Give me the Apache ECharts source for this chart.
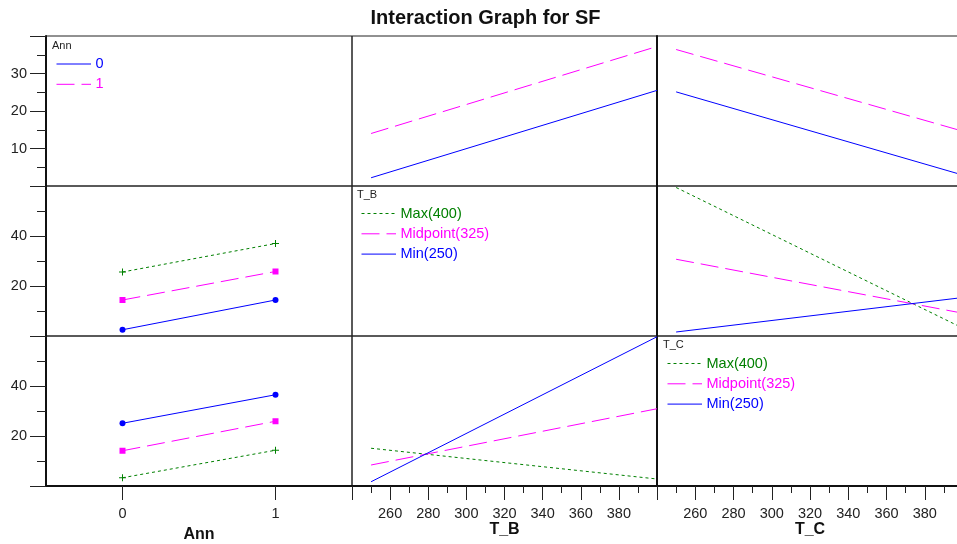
<!DOCTYPE html>
<html>
<head>
<meta charset="utf-8">
<title>Interaction Graph for SF</title>
<script src="https://cdn.jsdelivr.net/npm/echarts@6/dist/echarts.min.js"></script>
<style>
  html, body { margin: 0; padding: 0; background: #fff; }
  #chart { width: 957px; height: 544px; }
</style>
</head>
<body>
<div id="chart"></div>
<script>
// factor levels
const annLevels = ['0', '1'];
const tempEnds = [250, 400];
const xNames = ['Ann', 'T_B', 'T_C'];

// row 1: SF by Ann, against T_B and T_C
const sfTB_ann0 = [2.2, 25.5];
const sfTB_ann1 = [14.0, 37.2];
const sfTC_ann0 = [25.1, 2.9];
const sfTC_ann1 = [36.4, 14.6];

// row 2: SF by T_B level, against Ann and T_C
const sfAnn_tbMax = [25.6, 37.0];
const sfAnn_tbMid = [14.4, 25.8];
const sfAnn_tbMin = [2.5, 14.4];
const sfTC_tbMax = [59.4, 3.1];
const sfTC_tbMid = [30.7, 9.1];
const sfTC_tbMin = [1.6, 15.4];

// row 3: SF by T_C level, against Ann and T_B
const sfAnn_tcMax = [3.3, 14.3];
const sfAnn_tcMid = [14.1, 25.9];
const sfAnn_tcMin = [25.1, 36.5];
const sfTB_tcMax = [15.1, 2.8];
const sfTB_tcMid = [8.4, 30.9];
const sfTB_tcMin = [1.7, 59.7];

const FONT = "'Liberation Sans', Arial, sans-serif";
const PLUS = 'path://M3,0H4V3H7V4H4V7H3V4H0V3H3Z';

const st = {
  ann0: { color: '#0000ff', dash: 'solid' },
  ann1: { color: '#ff00ff', dash: [18, 7] },
  max: { color: '#008000', dash: [3, 3], symbol: PLUS },
  mid: { color: '#ff00ff', dash: [18, 7], symbol: 'rect' },
  min: { color: '#0000ff', dash: 'solid', symbol: 'circle' }
};

const colLeft = [46, 352, 657];
const colWidth = [306, 305, 306];
const rowTop = [36, 186, 336];
const rowH = 150;

const grids = [], xAxes = [], yAxes = [];
for (let r = 0; r < 3; r++) {
  for (let c = 0; c < 3; c++) {
    const g = r * 3 + c;
    grids.push({
      left: colLeft[c], top: rowTop[r], width: colWidth[c], height: rowH,
      show: true, borderColor: '#222', borderWidth: 1,
      containLabel: false, outerBoundsMode: 'none'
    });
    const bottom = r === 2;
    const xa = {
      gridIndex: g,
      axisLine: { show: bottom, onZero: false, lineStyle: { color: '#111', width: 2 } },
      axisTick: { show: bottom, length: 14, lineStyle: { color: '#222' } },
      axisLabel: { show: bottom, margin: 20, fontSize: 14.5, color: '#222', fontFamily: FONT },
      splitLine: { show: false },
      name: bottom ? xNames[c] : '',
      nameLocation: 'middle',
      nameGap: c === 0 ? 41 : 36,
      nameMoveOverlap: false,
      nameTextStyle: { fontSize: 16, fontWeight: 'bold', color: '#111', fontFamily: FONT }
    };
    if (c === 0) {
      xa.type = 'category';
      xa.data = annLevels;
      xa.boundaryGap = true;
      xa.axisTick.alignWithLabel = true;
    } else {
      xa.type = 'value';
      xa.min = 240; xa.max = 400; xa.interval = 20;
      xa.minorTick = { show: bottom, splitNumber: 2, length: 7, lineStyle: { color: '#222' } };
      xa.axisLabel.showMinLabel = false;
      xa.axisLabel.showMaxLabel = false;
    }
    xAxes.push(xa);

    const ya = {
      gridIndex: g, type: 'value', min: 0,
      max: r === 0 ? 40 : 60, interval: r === 0 ? 10 : 20,
      axisLine: { show: c !== 1, onZero: false, lineStyle: { color: '#111', width: 2 } },
      axisTick: { show: c === 0, length: 16, lineStyle: { color: '#222' } },
      minorTick: { show: c === 0, splitNumber: 2, length: 9, lineStyle: { color: '#222' } },
      axisLabel: { show: c === 0, margin: 19, fontSize: 14.5, color: '#222', fontFamily: FONT,
                   showMinLabel: false, showMaxLabel: false },
      splitLine: { show: false }
    };
    yAxes.push(ya);
  }
}

function mk(name, s, g, xs, ys, marks) {
  return {
    name: name, type: 'line', xAxisIndex: g, yAxisIndex: g,
    data: xs ? xs.map((x, i) => [x, ys[i]]) : ys,
    showSymbol: !!marks, symbol: marks ? s.symbol : 'none', symbolSize: s.symbol === PLUS ? 7 : 6,
    itemStyle: { color: s.color },
    lineStyle: { color: s.color, width: 1, type: s.dash },
    silent: true, clip: true
  };
}

const series = [
  mk('0', st.ann0, 1, tempEnds, sfTB_ann0),
  mk('1', st.ann1, 1, tempEnds, sfTB_ann1),
  mk('0', st.ann0, 2, tempEnds, sfTC_ann0),
  mk('1', st.ann1, 2, tempEnds, sfTC_ann1),

  mk('Max(400)', st.max, 3, null, sfAnn_tbMax, true),
  mk('Midpoint(325)', st.mid, 3, null, sfAnn_tbMid, true),
  mk('Min(250)', st.min, 3, null, sfAnn_tbMin, true),
  mk('Max(400)', st.max, 5, tempEnds, sfTC_tbMax),
  mk('Midpoint(325)', st.mid, 5, tempEnds, sfTC_tbMid),
  mk('Min(250)', st.min, 5, tempEnds, sfTC_tbMin),

  mk('Max(400)', st.max, 6, null, sfAnn_tcMax, true),
  mk('Midpoint(325)', st.mid, 6, null, sfAnn_tcMid, true),
  mk('Min(250)', st.min, 6, null, sfAnn_tcMin, true),
  mk('Max(400)', st.max, 7, tempEnds, sfTB_tcMax),
  mk('Midpoint(325)', st.mid, 7, tempEnds, sfTB_tcMid),
  mk('Min(250)', st.min, 7, tempEnds, sfTB_tcMin)
];

// legend boxes drawn as graphics
function legendBox(x, y, title, items) {
  const els = [{
    type: 'text', x: x, y: y,
    style: { text: title, fill: '#222', fontSize: 11, fontFamily: FONT, verticalAlign: 'middle' }
  }];
  items.forEach((it, i) => {
    const ly = y + 18.5 + i * 20.3;
    els.push({
      type: 'line',
      shape: { x1: x + 4.5, y1: ly, x2: x + 39, y2: ly },
      style: { stroke: it.s.color, lineWidth: 1, lineDash: it.s.dash === 'solid' ? null : it.s.dash }
    });
    els.push({
      type: 'text', x: x + 43.5, y: ly,
      style: { text: it.label, fill: it.s.color, fontSize: 14.5, fontFamily: FONT, verticalAlign: 'middle' }
    });
  });
  return els;
}

const levelItems = [
  { label: 'Max(400)', s: st.max },
  { label: 'Midpoint(325)', s: st.mid },
  { label: 'Min(250)', s: st.min }
];

const graphics = [].concat(
  [{
    type: 'text', x: 485.5, y: 18.5,
    style: { text: 'Interaction Graph for SF', fill: '#111', fontSize: 20, fontWeight: 'bold',
             fontFamily: FONT, align: 'center', verticalAlign: 'middle' }
  }],
  legendBox(52, 45.5, 'Ann', [{ label: '0', s: st.ann0 }, { label: '1', s: st.ann1 }]),
  legendBox(357, 195, 'T_B', levelItems),
  legendBox(663, 345, 'T_C', levelItems)
);

const chart = echarts.init(document.getElementById('chart'));
chart.setOption({
  animation: false,
  backgroundColor: '#fff',
  grid: grids,
  xAxis: xAxes,
  yAxis: yAxes,
  series: series,
  graphic: graphics
});
</script>
</body>
</html>
